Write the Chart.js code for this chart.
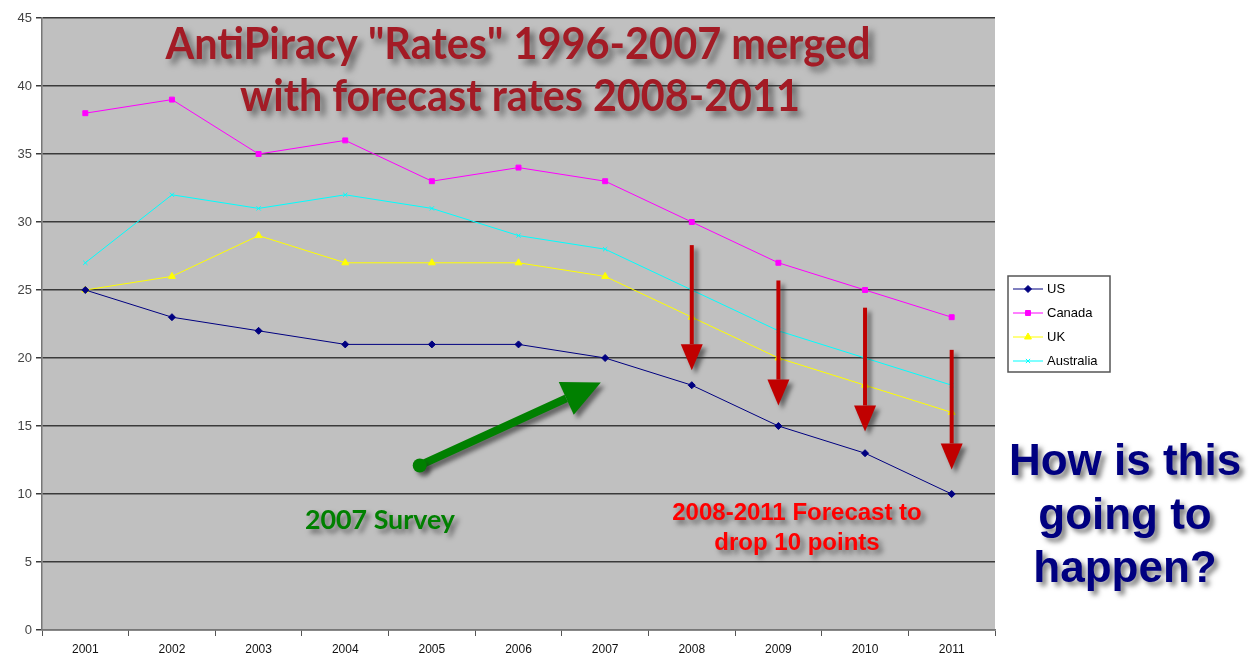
<!DOCTYPE html>
<html>
<head>
<meta charset="utf-8">
<script src="https://cdn.jsdelivr.net/npm/chart.js@4"></script>
<style>
  body { margin: 0; background: #fff; }
  #wrap { width: 1256px; height: 659px; }
</style>
</head>
<body>
<div id="wrap"><canvas id="chart" width="1256" height="659"></canvas></div>
<script>
const years = ['2001', '2002', '2003', '2004', '2005', '2006', '2007', '2008', '2009', '2010', '2011'];
const usRates = [25, 23, 22, 21, 21, 21, 20, 18, 15, 13, 10];
const canadaRates = [38, 39, 35, 36, 33, 34, 33, 30, 27, 25, 23];
const ukRates = [25, 26, 29, 27, 27, 27, 26, 23, 20, 18, 16];
const australiaRates = [27, 32, 31, 32, 31, 29, 28, 25, 22, 20, 18];

// forecast arrows: [year index, from value, to value]
const forecastArrows = [[7, 28.3, 19.1], [8, 25.7, 16.5], [9, 23.7, 14.6], [10, 20.6, 11.8]];

function shadowed(ctx, blur, dx, dy, fn) {
    ctx.save();
    ctx.shadowColor = 'rgba(40,40,40,0.6)';
    ctx.shadowBlur = blur;
    ctx.shadowOffsetX = dx;
    ctx.shadowOffsetY = dy;
    fn();
    ctx.restore();
}

function arrow(ctx, x1, y1, x2, y2, color, shaft, headLen, headW) {
    const ang = Math.atan2(y2 - y1, x2 - x1);
    const bx = x2 - Math.cos(ang) * headLen;
    const by = y2 - Math.sin(ang) * headLen;
    ctx.strokeStyle = color;
    ctx.fillStyle = color;
    ctx.lineWidth = shaft;
    ctx.beginPath();
    ctx.moveTo(x1, y1);
    ctx.lineTo(bx, by);
    ctx.stroke();
    ctx.beginPath();
    ctx.moveTo(x2, y2);
    ctx.lineTo(bx + Math.sin(ang) * headW / 2, by - Math.cos(ang) * headW / 2);
    ctx.lineTo(bx - Math.sin(ang) * headW / 2, by + Math.cos(ang) * headW / 2);
    ctx.closePath();
    ctx.fill();
}

const plotBg = {
    id: 'plotBg',
    beforeDraw(chart) {
        const { ctx, chartArea: a } = chart;
        ctx.save();
        ctx.fillStyle = '#c0c0c0';
        ctx.fillRect(a.left, a.top, a.right - a.left, a.bottom - a.top);
        ctx.restore();
    }
};

const extras = {
    id: 'extras',
    afterDraw(chart) {
        const { ctx } = chart;
        const x = chart.scales.x, y = chart.scales.y;

        // legend box
        ctx.save();
        ctx.fillStyle = '#fff';
        ctx.fillRect(1008, 276, 102, 96);
        ctx.strokeStyle = '#555';
        ctx.lineWidth = 1.5;
        ctx.strokeRect(1008, 276, 102, 96);
        ctx.font = '13px "Liberation Sans", Arial';
        ctx.textBaseline = 'middle';
        chart.data.datasets.forEach((ds, i) => {
            const ly = 289 + i * 24;
            ctx.strokeStyle = ds.borderColor;
            ctx.fillStyle = ds.borderColor;
            ctx.lineWidth = 1;
            ctx.beginPath();
            ctx.moveTo(1013, ly);
            ctx.lineTo(1043, ly);
            ctx.stroke();
            Chart.helpers.drawPoint(ctx, {
                pointStyle: ds.pointStyle, radius: ds.pointRadius, borderWidth: 1
            }, 1028, ly);
            ctx.fillStyle = '#000';
            ctx.fillText(ds.label, 1047, ly);
        });
        ctx.restore();

        // title
        ctx.save();
        ctx.textAlign = 'center';
        ctx.textBaseline = 'middle';
        ctx.font = 'bold 44px Lato';
        ctx.fillStyle = '#a31b25';
        shadowed(ctx, 6, 5, 5, () => {
            ctx.fillText('AntiPiracy "Rates" 1996-2007 merged', 518, 45, 705);
            ctx.fillText('with forecast rates 2008-2011', 520, 97, 560);
        });
        ctx.restore();

        // red forecast arrows
        ctx.save();
        shadowed(ctx, 4, 4, 4, () => {
            forecastArrows.forEach(([i, v1, v2]) => {
                const px = x.getPixelForValue(i);
                arrow(ctx, px, y.getPixelForValue(v1), px, y.getPixelForValue(v2), '#c00000', 4, 26, 22);
            });
        });
        ctx.restore();

        // green survey arrow
        ctx.save();
        shadowed(ctx, 4, 4, 4, () => {
            const x1 = x.getPixelForValue(3.86), y1 = y.getPixelForValue(12.1);
            const x2 = x.getPixelForValue(5.95), y2 = y.getPixelForValue(18.2);
            arrow(ctx, x1, y1, x2, y2, '#008000', 8, 38, 36);
            ctx.beginPath();
            ctx.arc(x1, y1, 7, 0, Math.PI * 2);
            ctx.fill();
        });
        ctx.restore();

        // texts
        ctx.save();
        ctx.textAlign = 'center';
        ctx.textBaseline = 'middle';
        shadowed(ctx, 5, 4, 4, () => {
            ctx.font = 'bold 27px Lato';
            ctx.fillStyle = '#008000';
            ctx.fillText('2007 Survey', 380, 520, 150);
            ctx.font = 'bold 24px "Liberation Sans", Arial';
            ctx.fillStyle = '#ff0000';
            ctx.fillText('2008-2011 Forecast to', 797, 513, 276);
            ctx.fillText('drop 10 points', 797, 543);
            ctx.font = 'bold 44px "Liberation Sans", Arial';
            ctx.fillStyle = '#000080';
            ctx.fillText('How is this', 1125, 463, 240);
            ctx.fillText('going to', 1125, 517);
            ctx.fillText('happen?', 1125, 570);
        });
        ctx.restore();
    }
};

function series(label, data, color, style, radius) {
    return {
        label, data,
        borderColor: color, backgroundColor: color,
        borderWidth: 1, pointStyle: style, pointRadius: radius,
        pointBorderWidth: 1, pointHoverRadius: radius,
        tension: 0
    };
}

new Chart(document.getElementById('chart'), {
    type: 'line',
    data: {
        labels: years,
        datasets: [
            series('US', usRates, '#000080', 'rectRot', 3.5),
            series('Canada', canadaRates, '#ff00ff', 'rect', 3.5),
            series('UK', ukRates, '#ffff00', 'triangle', 4),
            series('Australia', australiaRates, '#00ffff', 'crossRot', 3)
        ]
    },
    options: {
        responsive: false,
        animation: false,
        layout: { padding: { top: 18, right: 261, left: 0, bottom: 0 } },
        plugins: { legend: { display: false }, tooltip: { enabled: false } },
        scales: {
            x: {
                offset: true,
                grid: { offset: true, drawOnChartArea: false, color: '#555', tickLength: 6 },
                border: { color: '#777', width: 1.5 },
                ticks: { color: '#111', font: { family: '"Liberation Sans Narrow", "Arial Narrow", "Liberation Sans", sans-serif', size: 12 }, padding: 6 },
                afterFit(s) { s.height = 29; }
            },
            y: {
                min: 0, max: 45,
                ticks: { stepSize: 5, color: '#444', font: { family: '"Liberation Sans", Arial, sans-serif', size: 13 }, padding: 4 },
                grid: { color: '#3a3a3a', lineWidth: 1.5, tickLength: 6 },
                border: { color: '#777', width: 1.5 },
                afterFit(s) { s.width = 42; }
            }
        }
    },
    plugins: [plotBg, extras]
});
</script>
</body>
</html>
